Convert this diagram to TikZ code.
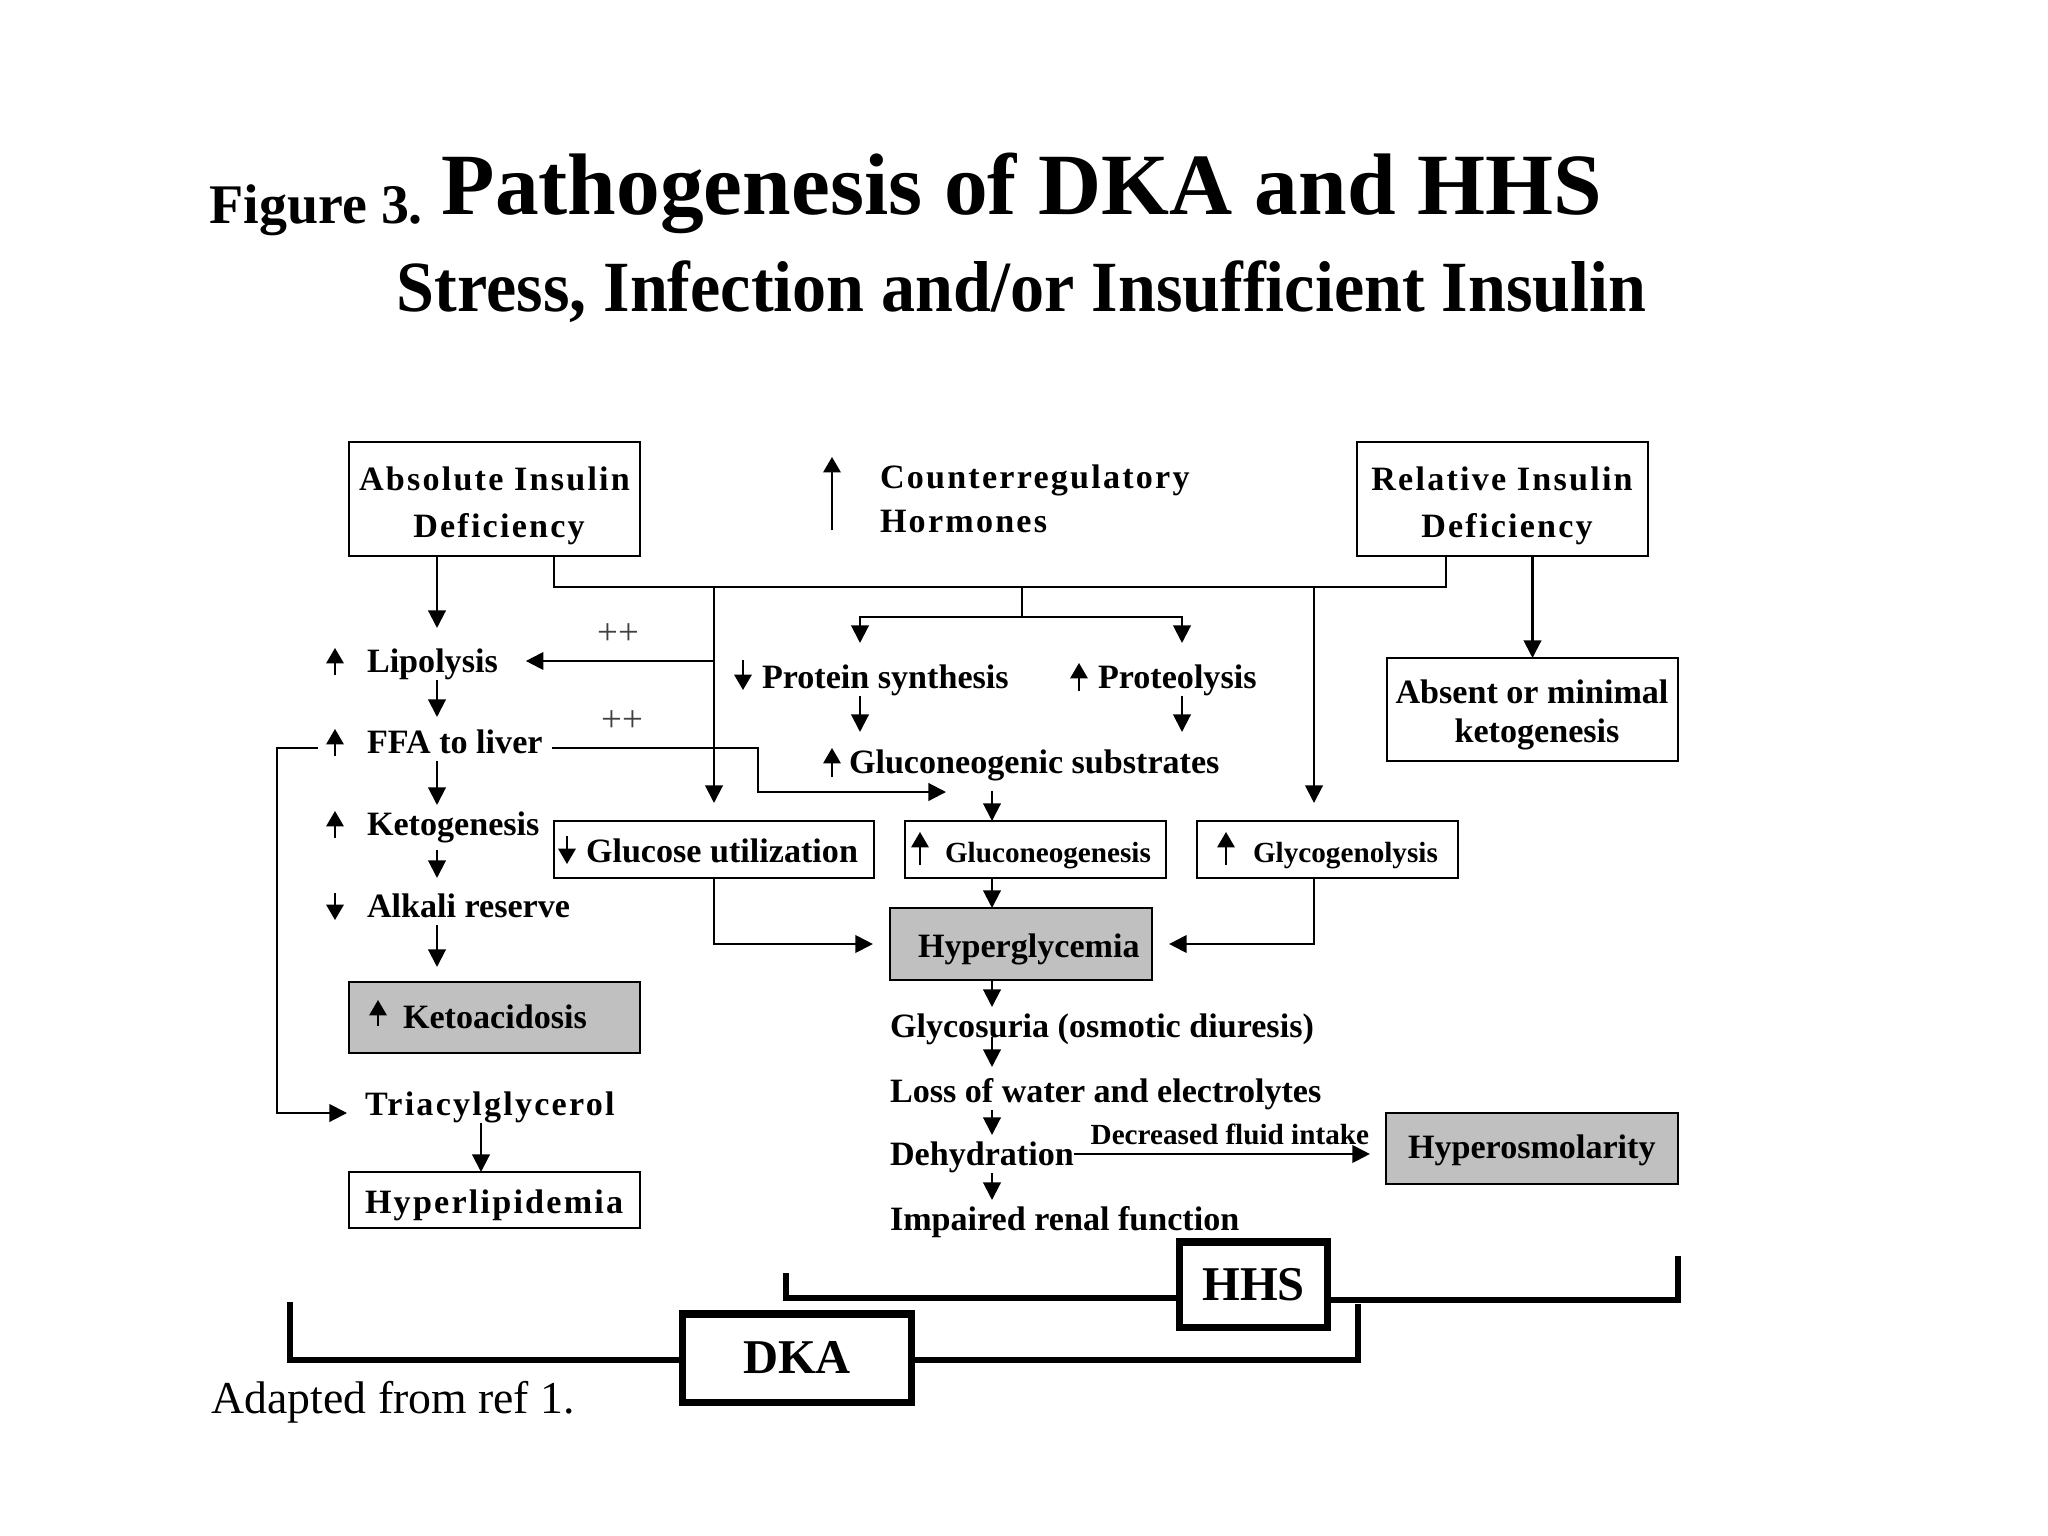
\documentclass[tikz,border=0pt]{standalone}
\usepackage{fontspec}
\usepackage{graphicx}
\setmainfont{Liberation Serif}
\newfontfamily\dkspfam{Liberation Serif}[LetterSpace=6.5]
\usetikzlibrary{arrows.meta,calc}
\newcommand\dkbody{\fontsize{9.7pt}{11pt}\selectfont\bfseries}
\newcommand\dkspaced{\dkspfam\fontsize{9.7pt}{11pt}\selectfont\bfseries}
\newcommand\dksmall{\fontsize{8.3pt}{10pt}\selectfont\bfseries}
\definecolor{boxgray}{RGB}{192,192,192}
\begin{document}
\begin{tikzpicture}[x=0.01cm,y=-0.01cm,
  txt/.style={inner sep=0pt,outer sep=0pt,anchor=base west,text height=0.3cm,text depth=0.08cm,font=\dkbody},
  ctxt/.style={txt,anchor=base},
  box/.style={draw,line width=0.55pt,inner sep=0pt,outer sep=0pt},
  graybox/.style={box,fill=boxgray},
  arr/.style={line width=0.6pt,-{Triangle[length=5pt,width=5pt]}},
  link/.style={line width=0.6pt},
  ind/.style={line width=0.5pt,-{Triangle[length=4.4pt,width=5pt]}},
  brk/.style={line width=1.8pt},
  tagbox/.style={draw,line width=2pt,inner sep=0pt,outer sep=0pt,font=\fontsize{13.8pt}{16pt}\selectfont\bfseries},
]
\fill[white] (0,0) rectangle (2048,1536);
\useasboundingbox (0,0) rectangle (2048,1536);

% titles
\node[inner sep=0pt,anchor=base west,font=\fontsize{15.9pt}{18pt}\selectfont\bfseries] (fig) at (209,223) {Figure 3.};
\node[inner sep=0pt,anchor=base west,font=\fontsize{24.85pt}{28pt}\selectfont\bfseries] (ttl) at (441,214) {Pathogenesis of DKA and HHS};
\node[inner sep=0pt,anchor=base west,font=\fontsize{20.5pt}{24pt}\selectfont\bfseries] (sub) at (396,311) {\scalebox{0.945}[1]{Stress, Infection and/or Insufficient Insulin}};

% boxes
\node[box,minimum width=2.91cm,minimum height=1.14cm] (absbox) at (494.5,499) {};
\node[box,minimum width=2.91cm,minimum height=1.14cm] (relbox) at (1502.5,499) {};
\node[box,minimum width=2.91cm,minimum height=1.03cm] (absentbox) at (1532.5,709.5) {};
\node[box,minimum width=3.20cm,minimum height=0.57cm] (glucbox) at (714,849.5) {};
\node[box,minimum width=2.61cm,minimum height=0.57cm] (gneobox) at (1035.5,849.5) {};
\node[box,minimum width=2.61cm,minimum height=0.57cm] (glybox) at (1327.5,849.5) {};
\node[graybox,minimum width=2.62cm,minimum height=0.72cm] (hypergbox) at (1021,944) {};
\node[graybox,minimum width=2.91cm,minimum height=0.71cm] (ketobox) at (494.5,1017.5) {};
\node[box,minimum width=2.91cm,minimum height=0.56cm] (lipidbox) at (494.5,1200) {};
\node[graybox,minimum width=2.92cm,minimum height=0.71cm] (osmobox) at (1532,1148.5) {};
\node[tagbox,minimum width=1.47cm,minimum height=0.85cm] (hhsbox) at (1253.5,1284.5) {HHS};
\node[tagbox,minimum width=2.28cm,minimum height=0.88cm] (dkabox) at (797,1358) {DKA};

% box texts
\node[ctxt,font=\dkspaced] (absT1) at (494.5,490) {Absolute Insulin};
\node[ctxt,font=\dkspaced] (absT2) at (499,537) {Deficiency};
\node[ctxt,font=\dkspaced] (relT1) at (1502,490) {Relative Insulin};
\node[ctxt,font=\dkspaced] (relT2) at (1507,537) {Deficiency};
\node[ctxt] (absentT1) at (1532,703) {Absent or minimal};
\node[ctxt] (absentT2) at (1537,742) {ketogenesis};
\node[txt] (glucu) at (586,862) {Glucose utilization};
\node[txt,font=\dksmall] (gneot) at (945,862) {Gluconeogenesis};
\node[txt,font=\dksmall] (glyct) at (1253,862) {Glycogenolysis};
\node[txt] (hypergT) at (918,957) {Hyperglycemia};
\node[txt] (ketot) at (403,1028) {Ketoacidosis};
\node[txt,font=\dkspaced] (lipidT) at (365,1213) {Hyperlipidemia};
\node[txt] (osmoT) at (1408,1158) {Hyperosmolarity};

% free texts
\node[txt,font=\dkspaced] (counter) at (880,488) {Counterregulatory};
\node[txt,font=\dkspaced] (horm) at (880,532) {Hormones};
\node[txt] (lipo) at (367,672) {Lipolysis};
\node[txt] (ffa) at (367,753) {FFA to liver};
\node[txt] (ketog) at (367,835) {Ketogenesis};
\node[txt] (alk) at (367,917) {Alkali reserve};
\node[txt,font=\dkspaced] (tri) at (365,1115) {Triacylglycerol};
\node[txt] (prot) at (762,688) {Protein synthesis};
\node[txt] (proteo) at (1098,688) {Proteolysis};
\node[txt] (gsub) at (849,773) {Gluconeogenic substrates};
\node[txt] (glyc) at (890,1037) {Glycosuria (osmotic diuresis)};
\node[txt] (loss) at (890,1102) {Loss of water and electrolytes};
\node[txt] (dehyd) at (890,1165) {Dehydration};
\node[txt] (imp) at (890,1230) {Impaired renal function};
\node[inner sep=0pt,anchor=base,font=\fontsize{10.5pt}{12pt}\selectfont,text=black!75] (pp1) at (618,644) {++};
\node[inner sep=0pt,anchor=base,font=\fontsize{10.5pt}{12pt}\selectfont,text=black!75] (pp2) at (622,731) {++};
\node[inner sep=0pt,anchor=base west,font=\fontsize{13pt}{15pt}\selectfont] (adapt) at (211,1413) {Adapted from ref 1.};

% helper coordinates
\coordinate (cL) at (437,0);
\coordinate (cT) at (481,0);
\coordinate (busL) at (554,587);
\coordinate (busR) at (1446,587);
\coordinate (cG) at (714,0);
\coordinate (split) at (1022,617);
\coordinate (c860) at (860,0);
\coordinate (c1182) at (1182,0);
\coordinate (cY) at (1314,0);
\coordinate (c992) at (992,0);
\coordinate (cF) at (758,792);
\coordinate (ffaEnd) at (946,792);
\coordinate (cLoop) at (277,1113);

% connectors
\draw[arr,shorten >=0.14cm] (absbox.south -| cL) -- (lipo.north -| cL);
\draw[arr,shorten >=0.06cm] (lipo.south -| cL) -- (ffa.north -| cL);
\draw[arr] (ffa.south -| cL) -- (ketog.north -| cL);
\draw[arr,shorten <=0.07cm,shorten >=0.09cm] (ketog.south -| cL) -- (alk.north -| cL);
\draw[arr,shorten >=0.15cm] (alk.south -| cL) -- (ketobox.north -| cL);
\draw[arr] (tri.south -| cT) -- (lipidbox.north -| cT);
\draw[link] (absbox.south -| busL) -- (busL) -- (busR) -- (relbox.south -| busR);
\draw[arr,shorten >=0.18cm] (busL -| cG) -- (glucbox.north);
\draw[arr,shorten >=0.28cm] (lipo.east -| cG) -- (lipo.east);
\draw[link] (busL -| split) -- (split);
\draw[arr,shorten >=0.15cm] (split) -| (prot.north -| c860);
\draw[arr,shorten >=0.15cm] (split) -| (proteo.north -| c1182);
\draw[arr,shorten >=0.11cm] (prot.south -| c860) -- (gsub.north -| c860);
\draw[arr,shorten >=0.11cm] (proteo.south -| c1182) -- (gsub.north -| c1182);
\draw[arr,shorten <=0.09cm] ([yshift=-0.06cm]ffa.east) -| (cF) -- (ffaEnd);
\draw[arr,shorten <=0.1cm] (gsub.south -| c992) -- (gneobox.north -| c992);
\draw[arr] (gneobox.south -| c992) -- (hypergbox.north -| c992);
\draw[arr] (hypergbox.south -| c992) -- (glyc.north -| c992);
\draw[arr,shorten <=-0.08cm,shorten >=0.05cm] (glyc.south -| c992) -- (loss.north -| c992);
\draw[arr] (loss.south -| c992) -- (dehyd.north -| c992);
\draw[arr] (dehyd.south -| c992) -- (imp.north -| c992);
\draw[arr,shorten >=0.17cm] (glucbox.south) |- (hypergbox.west);
\draw[arr,shorten >=0.18cm] (busL -| cY) -- (glybox.north -| cY);
\draw[arr,shorten >=0.17cm] (glybox.south -| cY) |- (hypergbox.east);
\draw[arr] (relbox.south -| absentbox.north) -- (absentbox.north);
\draw[arr,shorten >=0.18cm] ([xshift=-0.49cm,yshift=-0.06cm]ffa.west) -| (cLoop) -- (tri.west |- cLoop);
\draw[arr,shorten >=0.16cm] (dehyd.east) -- node[above,inner sep=0pt,yshift=0.08cm,font=\dksmall] (dfi) {Decreased fluid intake} (osmobox.west |- dehyd.east);

% up/down indicator arrows
\draw[ind] ($(lipo.base west)+(-32,3)$) -- ++(0,-27);
\draw[ind] ($(ffa.base west)+(-32,3)$) -- ++(0,-27);
\draw[ind] ($(ketog.base west)+(-32,3)$) -- ++(0,-27);
\draw[ind] ($(alk.base west)+(-32,-24)$) -- ++(0,27);
\draw[ind] ($(ketot.base west)+(-25,-2)$) -- ++(0,-26);
\draw[ind] ($(glucu.base west)+(-19,-26)$) -- ++(0,28);
\draw[ind] ($(prot.base west)+(-19,-28)$) -- ++(0,30);
\draw[ind] ($(proteo.base west)+(-19,3)$) -- ++(0,-28);
\draw[ind] ($(gsub.base west)+(-17,4)$) -- ++(0,-29);
\draw[ind] ($(gneot.base west)+(-25,3)$) -- ++(0,-33);
\draw[ind] ($(glyct.base west)+(-27,3)$) -- ++(0,-33);
\draw[ind] ($(counter.base west)+(-48,42)$) -- ++(0,-73);

% brackets
\coordinate (hhsL) at (786,1273);
\coordinate (hhsLb) at (786,1298);
\coordinate (hhsRb) at (1678,1300);
\coordinate (hhsR) at (1678,1256);
\draw[brk] (hhsL) -- (hhsLb) -- (hhsbox.west |- hhsLb);
\draw[brk] (hhsbox.east |- hhsRb) -- (hhsRb) -- (hhsR);
\coordinate (dkaL) at (290,1302);
\coordinate (dkaLb) at (290,1360);
\coordinate (dkaRb) at (1358,1360);
\coordinate (dkaR) at (1358,1304);
\draw[brk] (dkaL) -- (dkaLb) -- (dkabox.west |- dkaLb);
\draw[brk] (dkabox.east |- dkaRb) -- (dkaRb) -- (dkaR);
\end{tikzpicture}
\end{document}
